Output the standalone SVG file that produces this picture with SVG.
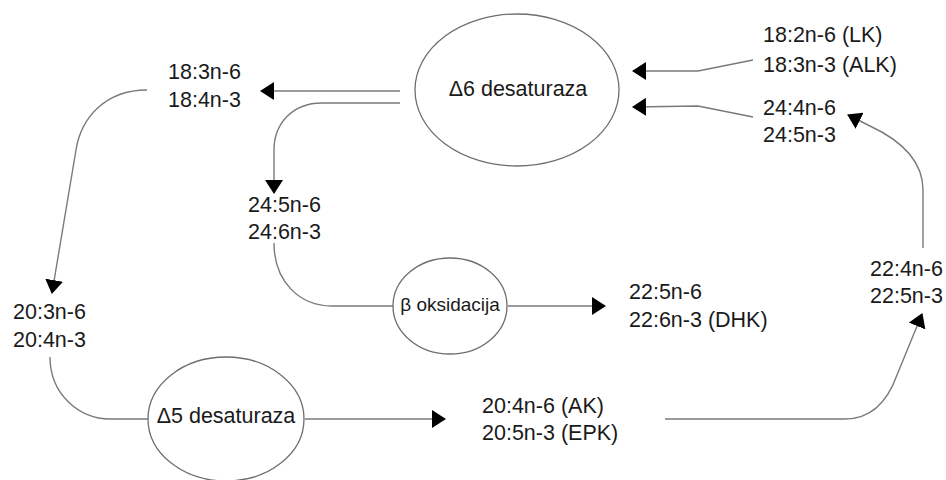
<svg xmlns="http://www.w3.org/2000/svg" width="946" height="480" viewBox="0 0 946 480">
  <defs>
    <marker id="arrow" viewBox="0 0 14 18" refX="13" refY="9" markerWidth="14" markerHeight="18" markerUnits="userSpaceOnUse" orient="auto">
      <path d="M0,0 L14,9 L0,18 z" fill="#000"/>
    </marker>
    <style>
      .bg { fill: #fff; }
      .enzyme { fill: #fff; stroke: #6e6e6e; stroke-width: 1.3; }
      .link { fill: none; stroke: #7a7a7a; stroke-width: 1.4; marker-end: url(#arrow); }
      .plain { marker-end: none; }
      .label { font-family: "Liberation Sans", Arial, sans-serif; font-size: 21.5px; fill: #1a1a1a; }
      .mid { text-anchor: middle; }
      .small { font-size: 19px; }
    </style>
  </defs>

  <rect class="bg" x="0" y="0" width="946" height="480"/>

  <!-- pathway connectors -->
  <g id="connectors">
    <path class="link" d="M753,60 L698,71 L633,71"/>
    <path class="link" d="M753,117 L698,106 L633,107"/>
    <path class="link" d="M400,91 L261,91"/>
    <path class="link" d="M400,103 L322,103 C292,103 274,124 274,150 L274,193"/>
    <path class="link" d="M147,90 C105,90 81,118 76,150 L52,293"/>
    <path class="link plain" d="M274,243 C274,282 300,306 332,306 L393,306"/>
    <path class="link" d="M508,306 L605,306"/>
    <path class="link plain" d="M50,357 C50,395 80,419 110,419 L148,419"/>
    <path class="link" d="M305,419 L445,419"/>
    <path class="link" d="M665,419 L845,419 C872,419 888,400 897,375 L922,314"/>
    <path class="link" d="M923,248 L923,190 C923,160 900,140 870,126 L848,115"/>
  </g>

  <!-- enzymes -->
  <g id="d6-desaturaza">
    <ellipse class="enzyme" cx="517" cy="90" rx="102" ry="76"/>
    <text class="label mid" x="518" y="96">Δ6 desaturaza</text>
  </g>
  <g id="beta-oksidacija">
    <ellipse class="enzyme" cx="450" cy="306" rx="57" ry="48"/>
    <text class="label mid small" x="450" y="311">β oksidacija</text>
  </g>
  <g id="d5-desaturaza">
    <ellipse class="enzyme" cx="226" cy="419" rx="78" ry="62"/>
    <text class="label mid" x="226" y="423">Δ5 desaturaza</text>
  </g>

  <!-- fatty acids -->
  <g id="fa-18-2">
    <text class="label" x="763" y="42">18:2n-6 (LK)</text>
    <text class="label" x="763" y="72">18:3n-3 (ALK)</text>
  </g>
  <g id="fa-24-4">
    <text class="label" x="763" y="115">24:4n-6</text>
    <text class="label" x="763" y="142">24:5n-3</text>
  </g>
  <g id="fa-18-3">
    <text class="label" x="168" y="79">18:3n-6</text>
    <text class="label" x="168" y="107">18:4n-3</text>
  </g>
  <g id="fa-24-5">
    <text class="label" x="248" y="212">24:5n-6</text>
    <text class="label" x="248" y="239">24:6n-3</text>
  </g>
  <g id="fa-20-3">
    <text class="label" x="13" y="319">20:3n-6</text>
    <text class="label" x="13" y="347">20:4n-3</text>
  </g>
  <g id="fa-22-5">
    <text class="label" x="629" y="299">22:5n-6</text>
    <text class="label" x="629" y="327">22:6n-3 (DHK)</text>
  </g>
  <g id="fa-22-4">
    <text class="label" x="870" y="276">22:4n-6</text>
    <text class="label" x="870" y="303">22:5n-3</text>
  </g>
  <g id="fa-20-4">
    <text class="label" x="482" y="413">20:4n-6 (AK)</text>
    <text class="label" x="482" y="440">20:5n-3 (EPK)</text>
  </g>
</svg>
